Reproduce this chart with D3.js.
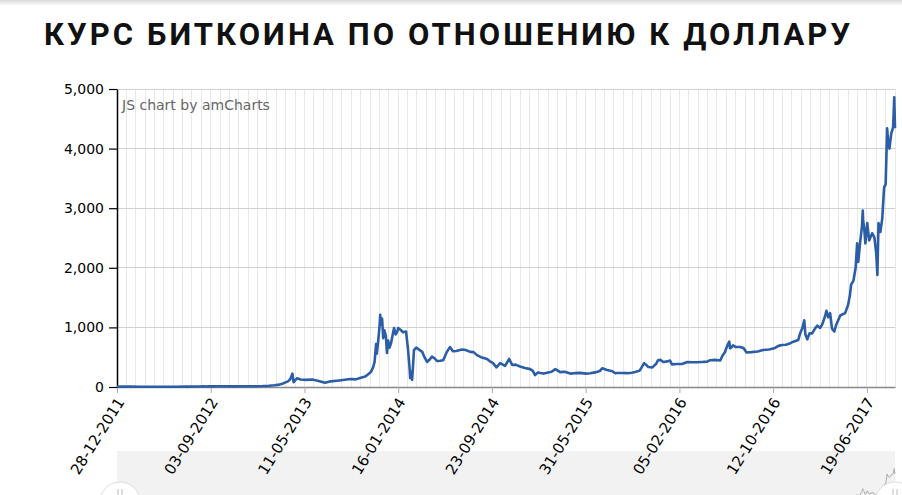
<!DOCTYPE html>
<html>
<head>
<meta charset="utf-8">
<script src="https://cdnjs.cloudflare.com/ajax/libs/d3/7.8.5/d3.min.js"></script>
<style>
  body { margin: 0; background: #fff; }
  #chart { position: relative; width: 902px; height: 495px; overflow: hidden; }
</style>
</head>
<body>
<div id="chart"></div>
<script>
// цена биткоина в USD
const dates = [
  "2011-12-28","2012-01-10","2012-02-01","2012-03-01","2012-04-01","2012-05-01","2012-06-01","2012-07-01",
  "2012-08-01","2012-08-17","2012-08-20","2012-09-01","2012-10-01","2012-11-01","2012-12-01","2013-01-01",
  "2013-01-20","2013-02-05","2013-02-20","2013-03-05","2013-03-15","2013-03-28","2013-04-03","2013-04-09",
  "2013-04-12","2013-04-16","2013-04-21","2013-05-01","2013-05-15","2013-06-01","2013-06-15","2013-07-05",
  "2013-07-20","2013-08-05","2013-08-22","2013-09-10","2013-09-25","2013-10-06","2013-10-20","2013-10-28",
  "2013-11-04","2013-11-10","2013-11-14","2013-11-18","2013-11-20","2013-11-24","2013-11-27","2013-11-29",
  "2013-12-01","2013-12-04","2013-12-07","2013-12-10","2013-12-14","2013-12-17","2013-12-20","2013-12-24",
  "2013-12-28","2014-01-02","2014-01-05","2014-01-09","2014-01-13","2014-01-16","2014-01-22","2014-01-29",
  "2014-02-06","2014-02-11","2014-02-15","2014-02-17","2014-02-19","2014-02-22","2014-02-25","2014-02-27",
  "2014-03-05","2014-03-10","2014-03-21","2014-03-27","2014-04-03","2014-04-11","2014-04-16","2014-04-23",
  "2014-04-30","2014-05-08","2014-05-16","2014-05-25","2014-06-03","2014-06-11","2014-06-20","2014-07-05",
  "2014-07-15","2014-07-27","2014-08-05","2014-08-14","2014-08-25","2014-09-10","2014-09-20","2014-09-26",
  "2014-10-05","2014-10-15","2014-10-28","2014-11-08","2014-11-12","2014-11-16","2014-11-25","2014-12-07",
  "2014-12-20","2015-01-03","2015-01-10","2015-01-16","2015-01-24","2015-01-30","2015-02-08","2015-02-17",
  "2015-03-01","2015-03-11","2015-03-24","2015-04-05","2015-04-20","2015-05-01","2015-05-16","2015-06-01",
  "2015-06-12","2015-06-25","2015-07-08","2015-07-14","2015-07-27","2015-08-10","2015-08-18","2015-08-23",
  "2015-09-05","2015-09-19","2015-10-01","2015-10-10","2015-10-22","2015-11-03","2015-11-08","2015-11-14",
  "2015-11-25","2015-12-05","2015-12-10","2015-12-16","2015-12-24","2016-01-04","2016-01-11","2016-01-16",
  "2016-01-30","2016-02-12","2016-02-26","2016-03-10","2016-03-23","2016-04-05","2016-04-19","2016-04-27",
  "2016-05-10","2016-05-24","2016-05-30","2016-06-05","2016-06-12","2016-06-17","2016-06-19","2016-06-22",
  "2016-06-27","2016-07-05","2016-07-16","2016-07-25","2016-08-02","2016-08-15","2016-09-01","2016-09-15",
  "2016-10-01","2016-10-15","2016-10-26","2016-11-05","2016-11-15","2016-11-27","2016-12-05","2016-12-18",
  "2016-12-23","2016-12-29","2017-01-03","2017-01-06","2017-01-11","2017-01-17","2017-01-24","2017-02-01",
  "2017-02-07","2017-02-14","2017-02-20","2017-02-28","2017-03-03","2017-03-08","2017-03-13","2017-03-18",
  "2017-03-24","2017-03-29","2017-04-09","2017-04-22","2017-04-30","2017-05-05","2017-05-08","2017-05-14",
  "2017-05-20","2017-05-24","2017-05-27","2017-06-01","2017-06-06","2017-06-08","2017-06-09","2017-06-12",
  "2017-06-15","2017-06-20","2017-06-25","2017-07-03","2017-07-09","2017-07-14","2017-07-17","2017-07-20",
  "2017-07-25","2017-07-30","2017-08-04","2017-08-08","2017-08-10","2017-08-12","2017-08-15","2017-08-18",
  "2017-08-23","2017-08-28","2017-08-31","2017-09-02"
];
const prices = [
  4,7,6,5,5,5,5,7,
  9,13,9,10,12,11,13,13,
  16,21,29,40,60,95,130,225,
  80,110,145,125,120,125,105,72,
  95,105,118,135,128,150,175,215,
  250,330,420,720,560,800,1000,1210,
  1050,1150,820,950,860,570,780,660,
  740,900,990,880,920,990,960,920,
  930,640,350,150,250,120,400,620,
  660,640,590,500,420,470,510,480,
  435,440,450,580,670,600,605,630,
  620,590,585,535,500,470,420,400,
  330,400,355,470,420,370,375,345,
  320,300,270,200,245,235,225,240,
  255,300,250,255,225,232,237,225,
  232,245,270,315,285,265,230,235,
  235,232,238,250,275,400,375,335,
  330,390,450,455,420,430,445,380,
  385,385,420,415,415,420,425,450,
  455,445,530,580,700,760,650,660,
  700,670,670,655,580,585,595,620,
  630,650,690,705,710,735,760,790,
  900,990,1120,880,800,900,900,985,
  1030,990,1050,1200,1280,1170,1240,980,
  930,1040,1200,1240,1380,1550,1720,1780,
  2000,2410,2100,2430,2700,2960,2800,2650,
  2410,2750,2460,2580,2510,2240,1880,2750,
  2600,2830,3350,3400,3850,4340,4100,4000,
  4250,4360,4860,4340
];
const yTicks = [0, 1000, 2000, 3000, 4000, 5000];
const xTickLabels = ["28-12-2011","03-09-2012","11-05-2013","16-01-2014","23-09-2014",
  "31-05-2015","05-02-2016","12-10-2016","19-06-2017"];
const title = "КУРС БИТКОИНА ПО ОТНОШЕНИЮ К ДОЛЛАРУ";

const W = 902, H = 495;
const margin = { top: 89, right: 7, bottom: 108, left: 117 };
const width = W - margin.left - margin.right;
const height = H - margin.top - margin.bottom;

const parseDate = d3.timeParse("%Y-%m-%d");
const parseTick = d3.timeParse("%d-%m-%Y");
const fmtTick = d3.timeFormat("%d-%m-%Y");
const data = dates.map((d, i) => ({ date: parseDate(d), value: prices[i] }));

const svg = d3.select("#chart").append("svg")
  .attr("width", W).attr("height", H);

// тень сверху
const grad = svg.append("defs").append("linearGradient")
  .attr("id", "topShadow").attr("x1", 0).attr("y1", 0).attr("x2", 0).attr("y2", 1);
grad.append("stop").attr("offset", "0%").attr("stop-color", "#d9d9d9");
grad.append("stop").attr("offset", "100%").attr("stop-color", "#fff");
svg.append("rect").attr("width", W).attr("height", 6).attr("fill", "url(#topShadow)");

svg.append("text")
  .attr("x", 44).attr("y", 45)
  .attr("textLength", 806).attr("lengthAdjust", "spacing")
  .style("font-family", "Roboto, sans-serif")
  .style("font-weight", 700)
  .style("font-size", "31px")
  .attr("fill", "#111")
  .text(title);

const x = d3.scaleTime().domain(d3.extent(data, d => d.date)).range([0, width]);
const y = d3.scaleLinear().domain([0, 5000]).range([height, 0]);

// скроллбар (под подписями оси)
const sbTop = 451;
svg.append("rect").attr("x", margin.left).attr("y", sbTop)
  .attr("width", width).attr("height", H - sbTop).attr("fill", "#f2f2f2");
const ySb = d3.scaleLinear().domain([0, 5000]).range([520, 467]);
const sbLine = d3.line().x(d => margin.left + x(d.date)).y(d => ySb(d.value));
svg.append("path").datum(data)
  .attr("fill", "none").attr("stroke", "#aaa").attr("stroke-width", 1)
  .attr("d", sbLine);

const g = svg.append("g").attr("transform", `translate(${margin.left},${margin.top})`);

// вертикальная сетка каждые 25 дней
const start = x.domain()[0];
const gridDates = d3.range(0, 90).map(i => d3.timeDay.offset(start, i * 25)).filter(d => d <= x.domain()[1]);
g.append("g").selectAll("line").data(gridDates).join("line")
  .attr("x1", d => x(d)).attr("x2", d => x(d))
  .attr("y1", 0).attr("y2", height)
  .attr("stroke", "#e8e8e8").attr("stroke-width", 1).attr("shape-rendering", "crispEdges");

// горизонтальная сетка
g.append("g").selectAll("line").data(yTicks.filter(v => v > 0)).join("line")
  .attr("x1", 0).attr("x2", width)
  .attr("y1", d => y(d)).attr("y2", d => y(d))
  .attr("stroke", "#d0d0d0").attr("shape-rendering", "crispEdges");

// ось X
const xTicks = xTickLabels.map(parseTick);
const xAxis = g.append("g").attr("transform", `translate(0,${height})`)
  .call(d3.axisBottom(x).tickValues(xTicks).tickFormat(fmtTick).tickSize(6).tickSizeOuter(0));
xAxis.select(".domain").attr("stroke", "#888").attr("stroke-width", 1.5);
xAxis.selectAll(".tick line").attr("stroke", "#aaa");
xAxis.selectAll(".tick text")
  .style("font-family", "'DejaVu Sans', Verdana, sans-serif")
  .style("font-size", "15px")
  .attr("fill", "#000")
  .attr("text-anchor", "end")
  .attr("y", 0).attr("dy", "0.35em")
  .attr("transform", "translate(3,12) rotate(-58)");

// ось Y
const yAxis = g.append("g")
  .call(d3.axisLeft(y).tickValues(yTicks).tickFormat(d3.format(",")).tickSize(8).tickSizeOuter(0).tickPadding(5));
yAxis.select(".domain").attr("stroke", "#000").attr("stroke-width", 1.5);
yAxis.selectAll(".tick line").attr("stroke", "#000").attr("stroke-width", 1.2);
yAxis.selectAll(".tick text")
  .style("font-family", "'DejaVu Sans', Verdana, sans-serif")
  .style("font-size", "14px")
  .attr("fill", "#000");

g.append("text")
  .attr("x", 5).attr("y", 21)
  .style("font-family", "'DejaVu Sans', Verdana, sans-serif")
  .style("font-size", "14px")
  .attr("fill", "#666")
  .text("JS chart by amCharts");

const line = d3.line().x(d => x(d.date)).y(d => y(d.value));
g.append("path").datum(data)
  .attr("fill", "none")
  .attr("stroke", "#2b5ea6")
  .attr("stroke-width", 2.6)
  .attr("stroke-linejoin", "round")
  .attr("d", line);

// ручки скроллбара
[margin.left + 3, margin.left + width].forEach(cx => {
  svg.append("circle").attr("cx", cx).attr("cy", 502).attr("r", 20)
    .attr("fill", "#fff").attr("stroke", "#ddd").attr("stroke-width", 1);
  svg.append("line").attr("x1", cx - 2).attr("x2", cx - 2).attr("y1", 489).attr("y2", 495)
    .attr("stroke", "#bbb");
  svg.append("line").attr("x1", cx + 2).attr("x2", cx + 2).attr("y1", 489).attr("y2", 495)
    .attr("stroke", "#bbb");
});
</script>
</body>
</html>
